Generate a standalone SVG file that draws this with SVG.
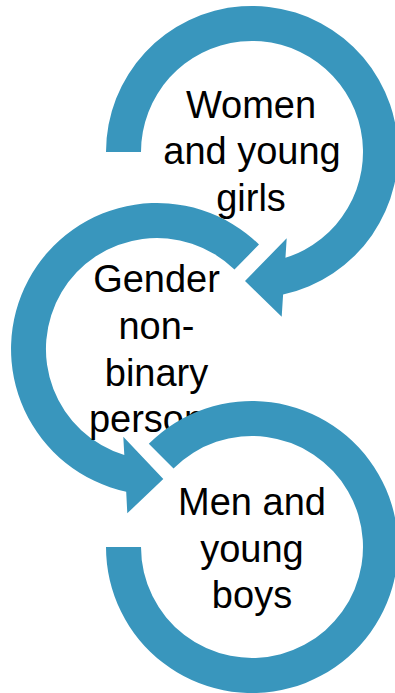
<svg xmlns="http://www.w3.org/2000/svg" width="395" height="693" viewBox="0 0 395 693">
<style>
.ring{fill:#3996BD;stroke:none}
.lbl{font-family:"Liberation Sans",Arial,sans-serif;font-size:38px;fill:#000;text-anchor:middle}
</style>
<rect width="395" height="693" fill="#fff"/>
<g id="connectors">
</g>
<g id="node1">
<path class="ring" d="M106,152 A146,146 0 1 1 283.1,294.6 L281.7,316.7 L245,281 L286.7,238.3 L285.45,257.8 A111,111 0 1 0 141,152 Z"/>
<text class="lbl" x="251" y="117.7">Women</text>
<text class="lbl" x="252" y="163.5">and young</text>
<text class="lbl" x="251" y="210.5">girls</text>
</g>
<g id="node2">
<path class="ring" d="M259,244.5 A146,146 0 1 0 126.2,491.7 L127.3,513.3 L163.3,479 L123.3,436.7 L124.3,455.1 A111,111 0 1 1 234.5,269.6 Z"/>
<text class="lbl" x="156.5" y="292.3">Gender</text>
<text class="lbl" x="156.5" y="339">non-</text>
<text class="lbl" x="156.5" y="386">binary</text>
<text class="lbl" x="156.5" y="432">persons</text>
</g>
<g id="node3">
<path class="ring" d="M106,547 A146,146 0 1 0 148.8,443.8 L173.5,468.5 A111,111 0 1 1 141,547 Z"/>
<text class="lbl" x="252" y="515">Men and</text>
<text class="lbl" x="252" y="562">young</text>
<text class="lbl" x="252" y="608">boys</text>
</g>
</svg>
